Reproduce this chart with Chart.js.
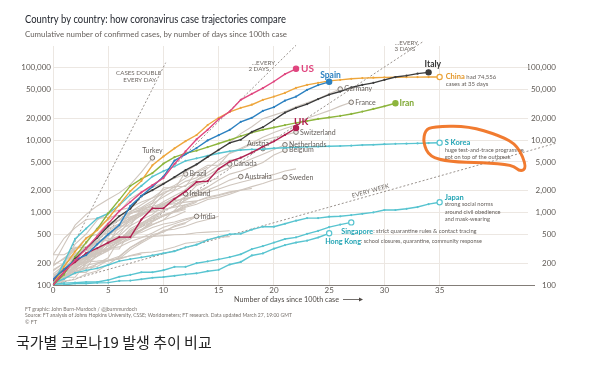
<!DOCTYPE html>
<html>
<head>
<meta charset="utf-8">
<script src="https://cdn.jsdelivr.net/npm/chart.js@4.4.1/dist/chart.umd.min.js"></script>
<style>
  html, body { margin: 0; padding: 0; background: #fff; }
  #wrap { position: relative; width: 600px; height: 368px; }
</style>
</head>
<body>
<div id="wrap"><canvas id="c"></canvas></div>
<script>
const yTicks = [100, 200, 500, 1000, 2000, 5000, 10000, 20000, 50000, 100000];
const xTicks = [0, 5, 10, 15, 20, 25, 30, 35];

// cumulative confirmed cases, index = days since 100th case
const usCases = [100, 150, 220, 320, 470, 700, 1050, 1400, 1900, 2400, 3000, 4700, 7000, 10300, 13900, 19500, 24900, 36100, 43700, 52400, 64700, 81800, 96900];
const spainCases = [120, 165, 222, 259, 365, 500, 673, 1231, 1695, 2277, 3146, 5232, 6391, 7798, 9942, 11748, 13910, 17963, 20410, 25374, 28603, 35136, 39885, 49515, 57786, 64059];
const italyCases = [100, 150, 230, 320, 450, 650, 890, 1130, 1700, 2040, 2500, 3090, 3860, 4640, 5880, 7380, 9170, 10150, 13000, 15100, 19000, 24000, 28000, 31500, 37000, 42500, 47000, 53500, 58000, 62000, 68000, 74500, 78000, 83000, 86500];
const chinaCases = [100, 180, 290, 440, 570, 830, 1290, 1980, 2740, 4500, 5970, 7710, 9690, 11800, 16200, 20400, 24600, 28000, 30900, 36000, 40000, 45000, 52800, 58000, 62000, 66000, 68000, 70500, 72000, 73000, 73700, 74100, 74300, 74400, 74500, 74556];
const iranCases = [100, 139, 245, 388, 593, 978, 1501, 2336, 2922, 3513, 4747, 5823, 6566, 7161, 8042, 9000, 10075, 11364, 12729, 13938, 14991, 16169, 17361, 18407, 19644, 20610, 21638, 23049, 24811, 27017, 29406, 32332];
const ukCases = [116, 164, 207, 274, 322, 384, 459, 459, 802, 1144, 1145, 1551, 1960, 2642, 2716, 4014, 5067, 5745, 6726, 8164, 9640, 11812, 14745];
const skoreaCases = [104, 204, 433, 602, 833, 977, 1261, 1766, 2337, 3150, 3736, 4335, 5186, 5621, 6088, 6593, 7041, 7314, 7478, 7513, 7755, 7869, 7979, 8086, 8162, 8236, 8320, 8413, 8565, 8652, 8799, 8897, 8961, 9037, 9137, 9241];
const japanCases = [105, 122, 147, 159, 170, 189, 214, 228, 241, 256, 274, 293, 331, 360, 420, 461, 502, 511, 581, 639, 639, 701, 773, 839, 839, 878, 889, 924, 963, 1007, 1086, 1086, 1128, 1193, 1307, 1387];
const singaporeCases = [102, 106, 108, 110, 110, 117, 130, 138, 150, 150, 160, 178, 178, 200, 212, 226, 243, 266, 313, 345, 385, 432, 455, 509, 558, 631, 683, 732];
const hongkongCases = [100, 100, 105, 105, 107, 108, 114, 115, 120, 126, 129, 134, 140, 145, 155, 162, 192, 208, 256, 273, 317, 356, 386, 410, 453, 518];

const germanyCases = [130, 159, 196, 262, 482, 670, 799, 1040, 1176, 1457, 1908, 2078, 3675, 4585, 5795, 7272, 9257, 12327, 15320, 19848, 22213, 24873, 29056, 32986, 37323, 43938, 50871];
const franceCases = [100, 130, 191, 204, 288, 380, 656, 959, 1136, 1219, 1794, 2293, 2293, 3681, 4496, 4532, 6683, 7715, 9124, 10970, 12758, 14463, 16243, 20123, 22622, 25600, 29551, 33402];
const swissCases = [100, 214, 268, 337, 374, 491, 652, 652, 1139, 1359, 2200, 2200, 2700, 3028, 4075, 5294, 6575, 7474, 8795, 9877, 10897, 11811, 12928];
const turkeyCases = [191, 359, 670, 947, 1236, 1529, 1872, 2433, 3629, 5698];
const austriaCases = [104, 131, 182, 246, 302, 504, 655, 860, 1018, 1332, 1646, 2013, 2388, 2814, 3582, 4474, 5283, 5588, 6909, 7657];
const netherlandsCases = [128, 188, 265, 321, 382, 503, 503, 804, 959, 1135, 1413, 1705, 2051, 2460, 2994, 3631, 4204, 4749, 5560, 6412, 7431, 8647];
const belgiumCases = [109, 169, 200, 239, 267, 314, 314, 559, 689, 886, 1058, 1243, 1486, 1795, 2257, 2815, 3401, 3743, 4269, 4937, 6235, 7284];
const canadaCases = [108, 117, 193, 198, 252, 415, 478, 657, 800, 943, 1277, 1469, 2088, 2790, 3251, 4042, 4682];
const australiaCases = [107, 128, 128, 200, 250, 297, 377, 452, 568, 681, 791, 1071, 1549, 1682, 2044, 2364, 2810, 3143];
const swedenCases = [137, 161, 203, 248, 355, 500, 599, 814, 961, 1022, 1103, 1190, 1279, 1439, 1639, 1763, 1934, 2046, 2286, 2526, 2840, 3069];
const brazilCases = [162, 200, 321, 372, 621, 793, 1021, 1546, 1924, 2247, 2554, 2985, 3417];
const irelandCases = [129, 129, 169, 223, 292, 557, 683, 785, 906, 1125, 1329, 1564, 1819];
const indiaCases = [102, 113, 119, 142, 156, 194, 244, 330, 396, 499, 536, 657, 727, 887];

// other countries, unlabelled grey lines
const portugalCases = [112, 169, 245, 331, 448, 642, 785, 1020, 1280, 1600, 2060, 2362, 2995, 3544, 4268];
const norwayCases = [108, 147, 176, 205, 400, 598, 702, 996, 1090, 1221, 1333, 1463, 1550, 1746, 1914, 2118, 2385, 2621, 2863, 3084, 3369, 3755, 4015];
const israelCases = [109, 131, 161, 200, 250, 304, 427, 529, 712, 883, 1071, 1238, 1656, 2369, 2693, 3035];
const denmarkCases = [262, 442, 615, 801, 827, 864, 914, 977, 1057, 1151, 1255, 1326, 1395, 1450, 1591, 1724, 1877, 2046];
const malaysiaCases = [117, 129, 149, 149, 197, 238, 428, 566, 673, 790, 900, 1030, 1183, 1306, 1518, 1624, 1796, 2031, 2161];
const czechiaCases = [141, 189, 253, 298, 396, 464, 694, 833, 995, 1120, 1236, 1394, 1654, 1925, 2279];
const chileCases = [156, 201, 238, 238, 434, 537, 632, 746, 922, 1142, 1306, 1610];
const ecuadorCases = [111, 199, 367, 506, 789, 981, 1082, 1173, 1403, 1595, 1823];
const polandCases = [104, 125, 177, 238, 251, 355, 425, 536, 634, 749, 901, 1051, 1221, 1389];
const finlandCases = [109, 155, 225, 244, 277, 321, 336, 400, 450, 523, 626, 700, 792, 880, 958];
const greeceCases = [190, 228, 331, 331, 387, 418, 418, 495, 530, 624, 695, 743, 821, 892];
const icelandCases = [103, 134, 156, 171, 180, 220, 250, 330, 409, 473, 568, 588, 648, 737, 802, 890];
const qatarCases = [262, 262, 320, 337, 401, 439, 452, 452, 460, 470, 481, 494, 501, 526, 537, 549, 562];
const taiwanCases = [108, 135, 153, 169, 195, 215, 235, 252, 267];
const thailandCases = [114, 147, 177, 212, 272, 322, 411, 599, 721, 827, 934, 1045, 1136];
const indonesiaCases = [117, 134, 172, 227, 311, 369, 450, 514, 579, 686, 790, 893, 1046];
const romaniaCases = [131, 158, 184, 260, 277, 308, 367, 433, 576, 762, 906, 1029, 1292];
const philippinesCases = [111, 140, 142, 187, 202, 217, 230, 307, 380, 462, 552, 636, 707];
const pakistanCases = [183, 237, 299, 454, 501, 730, 776, 875, 972, 1063, 1201];
const saudiCases = [103, 118, 171, 171, 274, 344, 392, 511, 562, 767, 900, 1012, 1104];
const russiaCases = [114, 147, 199, 253, 306, 367, 438, 495, 658, 840, 1036];
const mexicoCases = [118, 164, 203, 251, 316, 367, 405, 475, 585, 717];
const southAfricaCases = [116, 150, 202, 240, 274, 402, 554, 709, 927, 1170];
const bahrainCases = [110, 189, 195, 210, 214, 221, 228, 256, 278, 285, 305, 334, 377, 392, 419, 458, 466];

// "cases double every ..." guide lines, as [day, cases] end points
const dblDayX = [0, 10.2], dblDayY = [100, 117600];
const dbl2X = [0, 22], dbl2Y = [100, 204800];
const dbl3X = [0, 33.5], dbl3Y = [100, 229900];
const dblWkX = [0, 45.5], dblWkY = [100, 9060];

// hand-drawn loop round the S Korea note, in [day, cases]
const loopDays = [34.4, 37.5, 40.5, 42.1, 42.9, 42.3, 41.6, 38.9, 35.9, 34.1, 33.5, 33.7];
const loopVals = [15300, 15800, 11500, 8370, 4160, 3660, 4570, 4880, 5030, 5900, 9200, 13900];

const GREY = '#cfc6be';
const TEAL = '#58c4d0';
const TEAL_TXT = '#22a4b4';
const TXT = '#66605c';

const series = [
  { name: 'US', data: usCases, color: '#e0467f', kind: 'main' },
  { name: 'Spain', data: spainCases, color: '#2b80c0', kind: 'main' },
  { name: 'Italy', data: italyCases, color: '#3c3c3c', kind: 'main' },
  { name: 'China', data: chinaCases, color: '#eea63c', kind: 'main', open: true },
  { name: 'Iran', data: iranCases, color: '#8db53d', kind: 'main' },
  { name: 'UK', data: ukCases, color: '#b01f50', kind: 'main' },
  { name: 'S Korea', data: skoreaCases, color: TEAL, kind: 'main', open: true },
  { name: 'Japan', data: japanCases, color: TEAL, kind: 'main', open: true },
  { name: 'Singapore', data: singaporeCases, color: TEAL, kind: 'main', open: true },
  { name: 'Hong Kong', data: hongkongCases, color: TEAL, kind: 'main', open: true },
  { name: 'Germany', data: germanyCases, kind: 'tagged' },
  { name: 'France', data: franceCases, kind: 'tagged' },
  { name: 'Switzerland', data: swissCases, kind: 'tagged' },
  { name: 'Turkey', data: turkeyCases, kind: 'tagged' },
  { name: 'Austria', data: austriaCases, kind: 'tagged' },
  { name: 'Netherlands', data: netherlandsCases, kind: 'tagged' },
  { name: 'Belgium', data: belgiumCases, kind: 'tagged' },
  { name: 'Canada', data: canadaCases, kind: 'tagged' },
  { name: 'Australia', data: australiaCases, kind: 'tagged' },
  { name: 'Sweden', data: swedenCases, kind: 'tagged' },
  { name: 'Brazil', data: brazilCases, kind: 'tagged' },
  { name: 'Ireland', data: irelandCases, kind: 'tagged' },
  { name: 'India', data: indiaCases, kind: 'tagged' },
  { name: 'Portugal', data: portugalCases, kind: 'grey' },
  { name: 'Norway', data: norwayCases, kind: 'grey' },
  { name: 'Israel', data: israelCases, kind: 'grey' },
  { name: 'Denmark', data: denmarkCases, kind: 'grey' },
  { name: 'Malaysia', data: malaysiaCases, kind: 'grey' },
  { name: 'Czechia', data: czechiaCases, kind: 'grey' },
  { name: 'Chile', data: chileCases, kind: 'grey' },
  { name: 'Ecuador', data: ecuadorCases, kind: 'grey' },
  { name: 'Poland', data: polandCases, kind: 'grey' },
  { name: 'Finland', data: finlandCases, kind: 'grey' },
  { name: 'Greece', data: greeceCases, kind: 'grey' },
  { name: 'Iceland', data: icelandCases, kind: 'grey' },
  { name: 'Qatar', data: qatarCases, kind: 'grey' },
  { name: 'Taiwan', data: taiwanCases, kind: 'grey' },
  { name: 'Thailand', data: thailandCases, kind: 'grey' },
  { name: 'Indonesia', data: indonesiaCases, kind: 'grey' },
  { name: 'Romania', data: romaniaCases, kind: 'grey' },
  { name: 'Philippines', data: philippinesCases, kind: 'grey' },
  { name: 'Pakistan', data: pakistanCases, kind: 'grey' },
  { name: 'Saudi Arabia', data: saudiCases, kind: 'grey' },
  { name: 'Russia', data: russiaCases, kind: 'grey' },
  { name: 'Mexico', data: mexicoCases, kind: 'grey' },
  { name: 'South Africa', data: southAfricaCases, kind: 'grey' },
  { name: 'Bahrain', data: bahrainCases, kind: 'grey' }
];

// label runs: [text, size, bold, color]
const notes = {
  'US': { dx: 5, dy: 0, lines: [[['US', 10, true, '#e0467f']]] },
  'Spain': { dx: -9, dy: -7, lines: [[['Spain', 8.5, true, '#2b80c0']]] },
  'Italy': { dx: -4, dy: -8, lines: [[['Italy', 8.5, true, '#333']]] },
  'China': { dx: 6, dy: 0, lh: 7.5, lines: [[['China', 7.5, true, '#e3982c'], [' had 74,556', 6, false, TXT]], [['cases at 35 days', 6, false, TXT]]] },
  'Iran': { dx: 4, dy: 0, lines: [[['Iran', 8.5, true, '#7ea832']]] },
  'UK': { dx: -2, dy: -6, lines: [[['UK', 10, true, '#b01f50']]] },
  'S Korea': { dx: 5, dy: 0, lh: 7, lines: [[['S Korea', 7.5, true, TEAL_TXT]], [['huge test-and-trace programme', 5.7, false, TXT]], [['got on top of the outbreak', 5.7, false, TXT]]] },
  'Japan': { dx: 5, dy: -5, lh: 7.3, lines: [[['Japan', 7.5, true, TEAL_TXT]], [['strong social norms', 5.7, false, TXT]], [['around civil obedience', 5.7, false, TXT]], [['and mask-wearing', 5.7, false, TXT]]] },
  'Singapore': { dx: -10, dy: 9, lines: [[['Singapore', 7.2, true, TEAL_TXT], [': strict quarantine rules & contact tracing', 5.8, false, TXT]]] },
  'Hong Kong': { dx: -4, dy: 8, lines: [[['Hong Kong', 7.2, true, TEAL_TXT], [': school closures, quarantine, community response', 5.5, false, TXT]]] },
  'Germany': { dx: 4, dy: 0, lines: [[['Germany', 7, false, TXT]]] },
  'France': { dx: 4, dy: 0, lines: [[['France', 7, false, TXT]]] },
  'Switzerland': { dx: 4, dy: 1, lines: [[['Switzerland', 7, false, TXT]]] },
  'Turkey': { dx: 0, dy: -7, align: 'center', lines: [[['Turkey', 7, false, TXT]]] },
  'Austria': { dx: 6, dy: -5, align: 'right', lines: [[['Austria', 7, false, TXT]]] },
  'Netherlands': { dx: 4, dy: 0, lines: [[['Netherlands', 7, false, TXT]]] },
  'Belgium': { dx: 4, dy: 0, lines: [[['Belgium', 7, false, TXT]]] },
  'Canada': { dx: 4, dy: 0, lines: [[['Canada', 7, false, TXT]]] },
  'Australia': { dx: 4, dy: 0, lines: [[['Australia', 7, false, TXT]]] },
  'Sweden': { dx: 4, dy: 0, lines: [[['Sweden', 7, false, TXT]]] },
  'Brazil': { dx: 4, dy: 0, lines: [[['Brazil', 7, false, TXT]]] },
  'Ireland': { dx: 4, dy: 0, lines: [[['Ireland', 7, false, TXT]]] },
  'India': { dx: 4, dy: 0, lines: [[['India', 7, false, TXT]]] }
};

function font(size, bold) {
  return (bold ? '700 ' : '400 ') + size + 'px Lato';
}

function drawNote(ctx, x, y, n) {
  const lh = n.lh || 8;
  n.lines.forEach((runs, li) => {
    let w = 0;
    runs.forEach(r => { ctx.font = font(r[1], r[2]); w += ctx.measureText(r[0]).width; });
    let cx = x;
    if (n.align === 'right') cx = x - w;
    if (n.align === 'center') cx = x - w / 2;
    runs.forEach(r => {
      ctx.font = font(r[1], r[2]);
      ctx.fillStyle = r[3];
      ctx.textAlign = 'left';
      ctx.textBaseline = 'middle';
      ctx.fillText(r[0], cx, y + li * lh);
      cx += ctx.measureText(r[0]).width;
    });
  });
}

function pts(vals) {
  return vals.map((v, i) => ({ x: i, y: v }));
}
function pairs(xs, ys) {
  return xs.map((x, i) => ({ x: x, y: ys[i] }));
}

const datasets = series.map(s => {
  const last = s.data.length - 1;
  if (s.kind === 'main') {
    return {
      data: pts(s.data), borderColor: s.color, borderWidth: 1.4, order: 0,
      pointRadius: c => c.dataIndex === last ? 2.6 : 1.1,
      pointBackgroundColor: c => (c.dataIndex === last && s.open) ? '#fff' : s.color,
      pointBorderColor: s.color,
      pointBorderWidth: c => c.dataIndex === last ? 1.2 : 0
    };
  }
  return {
    data: pts(s.data), borderColor: GREY, borderWidth: 1.1, order: 1,
    pointRadius: c => (s.kind === 'tagged' && c.dataIndex === last) ? 2.3 : 0,
    pointBackgroundColor: '#f1eeeb', pointBorderColor: '#7c756f', pointBorderWidth: 1
  };
});

[[dblDayX, dblDayY], [dbl2X, dbl2Y], [dbl3X, dbl3Y], [dblWkX, dblWkY]].forEach(g => {
  datasets.push({
    data: pairs(g[0], g[1]), borderColor: '#8d8680', borderWidth: 0.9,
    borderDash: [2, 2], pointRadius: 0, order: 2, clip: false
  });
});
const guideStart = series.length;

const extras = {
  id: 'extras',
  afterDatasetsDraw(chart) {
    const ctx = chart.ctx;
    const xs = chart.scales.x, ys = chart.scales.y;
    ctx.save();

    // guide labels
    const endOf = k => {
      const m = chart.getDatasetMeta(guideStart + k);
      return m.data[m.data.length - 1];
    };
    ctx.fillStyle = '#6f6964';
    ctx.font = font(6.2, false);
    ctx.textBaseline = 'middle';
    let e = endOf(0);
    ctx.textAlign = 'center';
    ctx.fillText('CASES DOUBLE', e.x - 27, e.y + 10);
    ctx.fillText('EVERY DAY', e.x - 26, e.y + 17);
    e = endOf(1);
    ctx.textAlign = 'right';
    ctx.fillText('...EVERY', e.x - 21, e.y + 18);
    ctx.fillText('2 DAYS', e.x - 27, e.y + 24);
    e = endOf(2);
    ctx.fillText('...EVERY', e.x - 5, e.y + 1);
    ctx.fillText('3 DAYS', e.x - 8, e.y + 7);
    // every week label along the line
    const w0 = chart.getDatasetMeta(guideStart + 3).data;
    const ang = Math.atan2(w0[1].y - w0[0].y, w0[1].x - w0[0].x);
    const lx = xs.getPixelForValue(28.6);
    const ly = w0[0].y + (lx - w0[0].x) * Math.tan(ang);
    ctx.translate(lx + 1.5, ly - 5);
    ctx.rotate(ang);
    ctx.textAlign = 'center';
    ctx.fillText('EVERY WEEK', 0, 0);
    ctx.setTransform(1, 0, 0, 1, 0, 0);

    // country labels
    series.forEach((s, i) => {
      const n = notes[s.name];
      if (!n) return;
      const m = chart.getDatasetMeta(i);
      const p = m.data[m.data.length - 1];
      drawNote(ctx, p.x + n.dx, p.y + n.dy, n);
    });

    // hand-drawn loop
    const lp = loopDays.map((d, i) => [xs.getPixelForValue(d), ys.getPixelForValue(loopVals[i])]);
    ctx.strokeStyle = 'rgba(240,112,30,0.92)';
    ctx.lineWidth = 3;
    ctx.lineJoin = 'round';
    ctx.beginPath();
    const mid = (a, b) => [(a[0] + b[0]) / 2, (a[1] + b[1]) / 2];
    let m0 = mid(lp[lp.length - 1], lp[0]);
    ctx.moveTo(m0[0], m0[1]);
    for (let i = 0; i < lp.length; i++) {
      const nx = mid(lp[i], lp[(i + 1) % lp.length]);
      ctx.quadraticCurveTo(lp[i][0], lp[i][1], nx[0], nx[1]);
    }
    ctx.closePath();
    ctx.stroke();
    ctx.restore();
  },
  afterDraw(chart) {
    const ctx = chart.ctx;
    ctx.save();
    ctx.textAlign = 'left';
    ctx.textBaseline = 'middle';
    ctx.fillStyle = '#22262e';
    ctx.font = font(10.5, false);
    ctx.fillText('Country by country: how coronavirus case trajectories compare', 25, 20, 261);
    ctx.fillStyle = TXT;
    ctx.font = font(8.2, false);
    ctx.fillText('Cumulative number of confirmed cases, by number of days since 100th case', 25, 34, 262);

    // x axis title with arrow
    ctx.font = font(7.8, false);
    ctx.fillStyle = '#4f4a46';
    ctx.fillText('Number of days since 100th case', 234, 299, 105);
    ctx.strokeStyle = '#4f4a46';
    ctx.lineWidth = 0.8;
    ctx.beginPath();
    ctx.moveTo(343, 299.5); ctx.lineTo(361, 299.5);
    ctx.stroke();
    ctx.beginPath();
    ctx.moveTo(363, 299.5); ctx.lineTo(359, 297.5); ctx.lineTo(359, 301.5); ctx.closePath();
    ctx.fillStyle = '#4f4a46';
    ctx.fill();

    // x axis line runs a little past the gridlines
    const ca = chart.chartArea;
    ctx.strokeStyle = '#837d78';
    ctx.lineWidth = 1;
    ctx.beginPath();
    ctx.moveTo(ca.right, ca.bottom + 0.5); ctx.lineTo(ca.right + 7, ca.bottom + 0.5);
    ctx.stroke();

    ctx.fillStyle = '#77716c';
    ctx.font = font(5.4, false);
    ctx.fillText('FT graphic: John Burn-Murdoch / @jburnmurdoch', 25, 309, 112);
    ctx.fillText('Source: FT analysis of Johns Hopkins University, CSSE; Worldometers; FT research. Data updated March 27, 19:00 GMT', 25, 315.5, 267);
    ctx.fillText('\u00A9 FT', 25, 322);

    ctx.fillStyle = '#222';
    ctx.font = '400 15px "Noto Sans CJK KR"';
    ctx.fillText('국가별 코로나19 발생 추이 비교', 16, 342);
    ctx.restore();
  }
};

const fmt = v => Number(v).toLocaleString('en-US');
const yTickObjs = () => yTicks.map(v => ({ value: v, major: true }));

Chart.defaults.font.family = 'Lato';
new Chart(document.getElementById('c'), {
  type: 'line',
  data: { datasets: datasets },
  plugins: [extras],
  options: {
    responsive: true,
    maintainAspectRatio: false,
    devicePixelRatio: 1,
    animation: false,
    events: [],
    layout: { padding: { left: 0, right: 44, top: 46, bottom: 71 } },
    plugins: { legend: { display: false }, tooltip: { enabled: false } },
    elements: { line: { tension: 0 } },
    scales: {
      x: {
        type: 'linear', min: 0, max: 43,
        afterBuildTicks: s => { s.ticks = xTicks.map(v => ({ value: v })); },
        afterFit: s => { s.height = 12; },
        grid: { color: '#ece7e2', drawTicks: false },
        border: { color: '#837d78', width: 1 },
        ticks: { color: '#5e5954', font: { size: 8 }, padding: 1, maxRotation: 0, autoSkip: false }
      },
      y: {
        type: 'logarithmic', position: 'left', min: 100, max: 200000,
        afterBuildTicks: s => { s.ticks = yTickObjs(); },
        afterFit: s => { s.width = 53; },
        grid: { color: '#ece7e2', drawTicks: false },
        border: { display: false },
        ticks: { color: '#5e5954', font: { size: 8 }, padding: 2, callback: fmt, autoSkip: false }
      },
      y2: {
        type: 'logarithmic', position: 'right', min: 100, max: 200000,
        clip: false,
        afterBuildTicks: s => { s.ticks = yTickObjs(); },
        afterFit: s => { s.width = 28; },
        grid: { display: false, drawTicks: false },
        border: { display: false },
        ticks: { color: '#5e5954', font: { size: 8 }, padding: 0, crossAlign: 'far', callback: fmt, autoSkip: false }
      }
    }
  }
});
</script>
</body>
</html>
